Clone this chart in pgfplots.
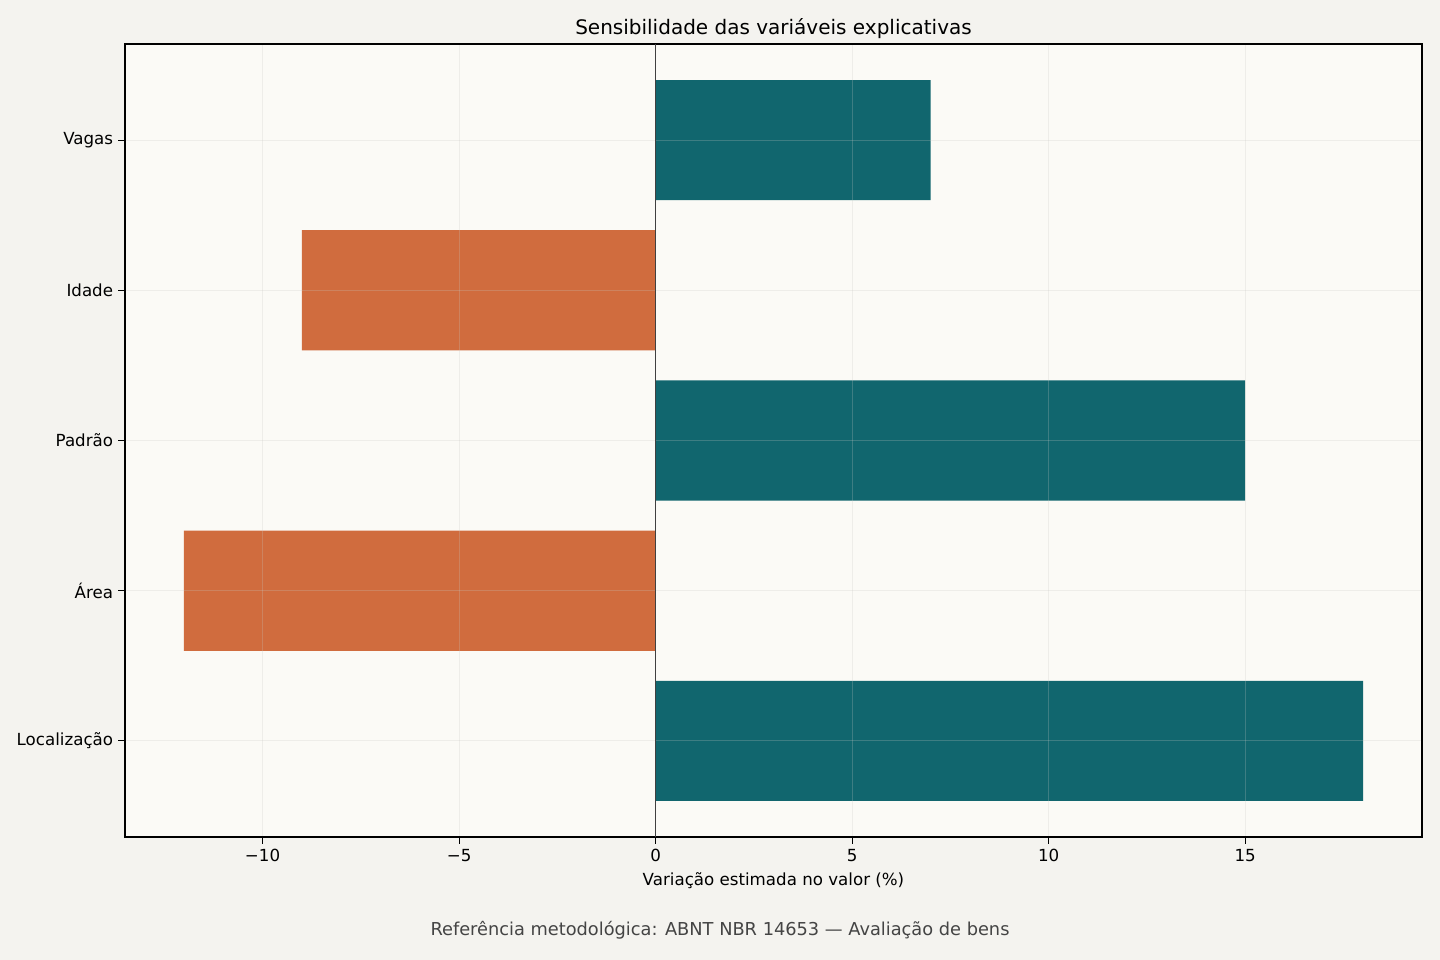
\documentclass[border=0pt]{standalone}
\usepackage{pgfplots}
\pgfplotsset{compat=1.18}
\usepackage{fontspec}
\setmainfont{DejaVu Sans}
\definecolor{figbg}{RGB}{244,243,239}
\definecolor{axbg}{RGB}{251,250,246}
\definecolor{tealbar}{RGB}{17,102,110}
\definecolor{orangebar}{RGB}{208,108,62}
\definecolor{footgray}{RGB}{68,68,68}
\definecolor{gridc}{RGB}{200,200,195}
\begin{document}
\begin{tikzpicture}[x=1pt,y=1pt]
\path[fill=figbg,use as bounding box] (0,0) rectangle (1036.8,691.2);
\begin{axis}[
  at={(90pt,88.56pt)}, anchor=south west,
  scale only axis, width=933.84pt, height=570.96pt,
  xmin=-13.5, xmax=19.5, ymin=-0.64, ymax=4.64,
  axis background/.style={fill=axbg},
  axis line style={black, line width=0.8pt},
  xbar, bar width=0.8, bar shift=0pt,
  xtick={-10,-5,0,5,10,15},
  xticklabels={−10,−5,0,5,10,15},
  ytick={0,1,2,3,4},
  yticklabels={Localização,Área,Padrão,Idade,Vagas},
  tick align=outside, major tick length=4.9pt,
  tick style={black, line width=0.8pt},
  xtick pos=bottom, ytick pos=left,
  ticklabel style={font=\fontsize{12}{14}\selectfont},
  xticklabel style={inner sep=0pt, yshift=-3.5pt},
  yticklabel style={inner sep=0pt, xshift=-3.5pt},
  grid=major,
  major grid style={draw=gridc, opacity=0.25, line width=0.7pt},
  axis on top,
  /pgf/number format/assume math mode=true,
]
\addplot[fill=tealbar, draw=none] coordinates {(18,0) (15,2) (7,4)};
\addplot[fill=orangebar, draw=none] coordinates {(-12,1) (-9,3)};
\coordinate (z0) at (axis cs:0,-0.64);
\coordinate (z1) at (axis cs:0,4.64);
\end{axis}
\draw[color=black!75, line width=1.3pt] (z0) -- (z1);
\node[anchor=base, font=\fontsize{14.4}{16}\selectfont] at (556.9, 666.7) {Sensibilidade das variáveis explicativas};
\node[anchor=base, font=\fontsize{12}{14}\selectfont] at (556.9, 53.3) {Variação estimada no valor (\%)};
\node[anchor=base, font=\fontsize{12.8}{14}\selectfont, text=footgray] at (518.4, 17.3) {Referência metodológica: ABNT NBR 14653 — Avaliação de bens};
\end{tikzpicture}
\end{document}
